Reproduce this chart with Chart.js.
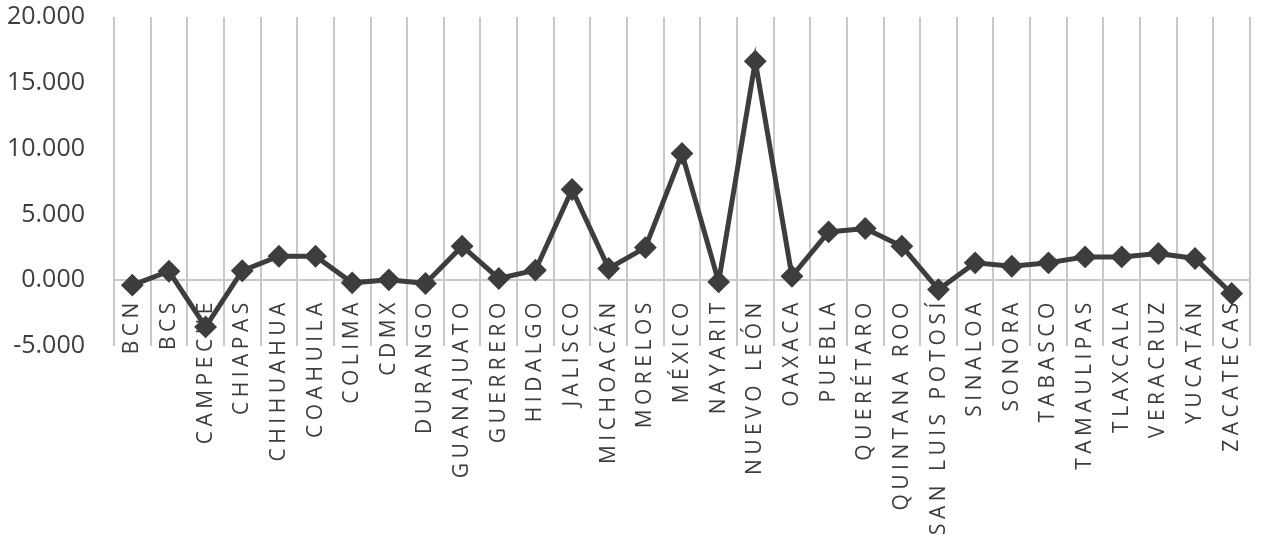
<!DOCTYPE html>
<html>
<head>
<meta charset="utf-8">
<script src="https://cdn.jsdelivr.net/npm/chart.js@4/dist/chart.umd.min.js"></script>
<style>
  html, body { margin: 0; padding: 0; background: #fff; }
  #wrap { width: 1262px; height: 543px; }
</style>
</head>
<body>
<div id="wrap"><canvas id="grafico"></canvas></div>
<script>
const estados = [
  "BCN", "BCS", "CAMPECHE", "CHIAPAS", "CHIHUAHUA", "COAHUILA", "COLIMA", "CDMX",
  "DURANGO", "GUANAJUATO", "GUERRERO", "HIDALGO", "JALISCO", "MICHOACÁN", "MORELOS",
  "MÉXICO", "NAYARIT", "NUEVO LEÓN", "OAXACA", "PUEBLA", "QUERÉTARO", "QUINTANA ROO",
  "SAN LUIS POTOSÍ", "SINALOA", "SONORA", "TABASCO", "TAMAULIPAS", "TLAXCALA",
  "VERACRUZ", "YUCATÁN", "ZACATECAS"
];

const valores = [
  -0.38, 0.68, -3.55, 0.72, 1.82, 1.82, -0.2, 0.03,
  -0.25, 2.58, 0.13, 0.76, 6.89, 0.89, 2.48,
  9.63, -0.13, 16.64, 0.3, 3.67, 3.93, 2.58,
  -0.71, 1.32, 1.06, 1.32, 1.77, 1.77,
  2.03, 1.65, -1.01
];

const yMin = -5;
const yMax = 20;
const yPaso = 5;

const cinza = "#3d3d3d";
const grade = "#c8c8c8";

// espaçamento entre letras nos rótulos do eixo x
const espacoLetras = {
  id: "espacoLetras",
  beforeDraw(chart) {
    const eixo = chart.scales.x;
    if (eixo._espacado) return;
    const original = eixo.drawLabels;
    eixo.drawLabels = function (area) {
      this.ctx.save();
      this.ctx.letterSpacing = "4.5px";
      original.call(this, area);
      this.ctx.restore();
    };
    eixo._espacado = true;
  }
};

new Chart(document.getElementById("grafico"), {
  type: "line",
  data: {
    labels: estados,
    datasets: [
      {
        data: valores,
        borderColor: cinza,
        backgroundColor: cinza,
        borderWidth: 5,
        pointStyle: "rectRot",
        pointRadius: 10,
        pointBorderWidth: 2,
        pointBackgroundColor: cinza,
        pointBorderColor: cinza,
        tension: 0,
      },
    ],
  },
  options: {
    responsive: true,
    maintainAspectRatio: false,
    animation: false,
    layout: { padding: { left: 0, right: 10, top: 17, bottom: 197 } },
    plugins: { legend: { display: false }, tooltip: { enabled: false } },
    scales: {
      x: {
        type: "category",
        offset: true,
        position: { y: 0 },
        grid: { offset: true, color: grade, lineWidth: 2, drawTicks: false },
        border: { display: true, color: grade, width: 2 },
        ticks: {
          autoSkip: false,
          minRotation: 90,
          maxRotation: 90,
          padding: 18,
          color: cinza,
          font: { family: "Open Sans", size: 21 },
        },
        afterFit(scale) {
          scale.paddingLeft = 0;
          scale.paddingRight = 0;
        },
      },
      y: {
        min: yMin,
        max: yMax,
        grid: { display: false, drawTicks: false },
        border: { display: false },
        ticks: {
          stepSize: yPaso,
          padding: 29,
          color: cinza,
          font: { family: "Open Sans", size: 25 },
          callback: (v) => v.toFixed(3),
        },
        afterFit(scale) {
          scale.width = 114;
          scale.paddingTop = 0;
          scale.paddingBottom = 0;
        },
      },
    },
  },
  plugins: [espacoLetras],
});
</script>
</body>
</html>
